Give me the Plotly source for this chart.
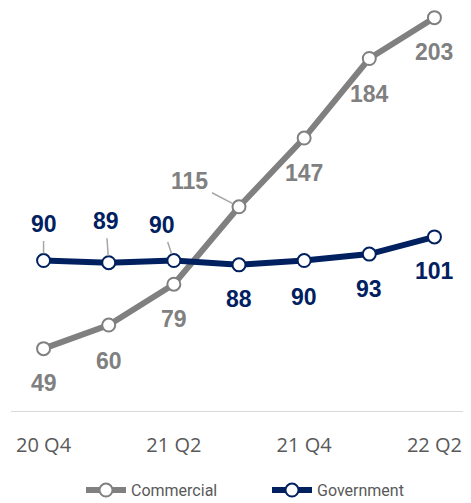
import plotly.graph_objects as go

quarters = ["20 Q4", "21 Q1", "21 Q2", "21 Q3", "21 Q4", "22 Q1", "22 Q2"]
commercial = [49, 60, 79, 115, 147, 184, 203]
government = [90, 89, 90, 88, 90, 93, 101]
tick_labels = ["20 Q4", "21 Q2", "21 Q4", "22 Q2"]

GRAY = "#808080"
NAVY = "#002060"
xs = list(range(len(quarters)))

fig = go.Figure()
fig.add_trace(go.Scatter(
    x=xs, y=commercial, name="Commercial", mode="lines+markers",
    line=dict(color=GRAY, width=6), cliponaxis=False,
    marker=dict(size=13, color="white", line=dict(color=GRAY, width=2)),
))
fig.add_trace(go.Scatter(
    x=xs, y=government, name="Government", mode="lines+markers",
    line=dict(color=NAVY, width=6), cliponaxis=False,
    marker=dict(size=13, color="white", line=dict(color=NAVY, width=2)),
))

label_font = dict(family="Liberation Sans, Arial", size=23, color=GRAY)
com_off = [(0, -34, False), (0, -36, False), (0, -35, False), (-50, -26, True),
           (0, -35, False), (0, -35, False), (0, -34, False)]
for x, v, (dx, dy, lead) in zip(xs, commercial, com_off):
    if lead:
        fig.add_annotation(x=x, y=v, text=f"<b>{v}</b>", showarrow=True,
                           ax=dx, ay=dy, arrowhead=0, arrowwidth=1.5,
                           arrowcolor="#a6a6a6", standoff=7, borderpad=4,
                           font=dict(label_font, color=GRAY))
    else:
        fig.add_annotation(x=x, y=v, text=f"<b>{v}</b>", showarrow=False,
                           yshift=dy, xshift=dx, font=dict(label_font, color=GRAY))

gov_off = [(0, -37, True), (-3, -42, True), (-12, -36, True), (0, -34, False),
           (0, -36, False), (0, -35, False), (0, -34, False)]
for x, v, (dx, dy, lead) in zip(xs, government, gov_off):
    if lead:
        fig.add_annotation(x=x, y=v, text=f"<b>{v}</b>", showarrow=True,
                           ax=dx, ay=dy, arrowhead=0, arrowwidth=1.5,
                           arrowcolor="#a6a6a6", standoff=7, borderpad=4,
                           font=dict(label_font, color=NAVY))
    else:
        fig.add_annotation(x=x, y=v, text=f"<b>{v}</b>", showarrow=False,
                           yshift=dy, xshift=dx, font=dict(label_font, color=NAVY))

fig.update_layout(
    width=463, height=495,
    margin=dict(l=3, r=4, t=0, b=92),
    plot_bgcolor="white", paper_bgcolor="white",
    showlegend=True,
    legend=dict(orientation="h", x=(81 - 11) / 456, xanchor="left", yref="container",
                y=0.026, yanchor="middle",
                font=dict(family="Roboto", size=16, color="#595959"),
                entrywidthmode="pixels", entrywidth=131,
                itemwidth=40, tracegroupgap=0),
    xaxis=dict(range=[-0.5, 6.5], tickmode="array", tickvals=[0, 2, 4, 6],
               ticktext=tick_labels, showgrid=False, zeroline=False,
               showline=True, linecolor="#d9d9d9", linewidth=1,
               ticks="", ticklabelstandoff=16,
               tickfont=dict(family="Open Sans", size=20, color="#595959")),
    yaxis=dict(range=[20, 207.5], visible=False, showgrid=False, zeroline=False),
)

fig.write_html("out.html")
